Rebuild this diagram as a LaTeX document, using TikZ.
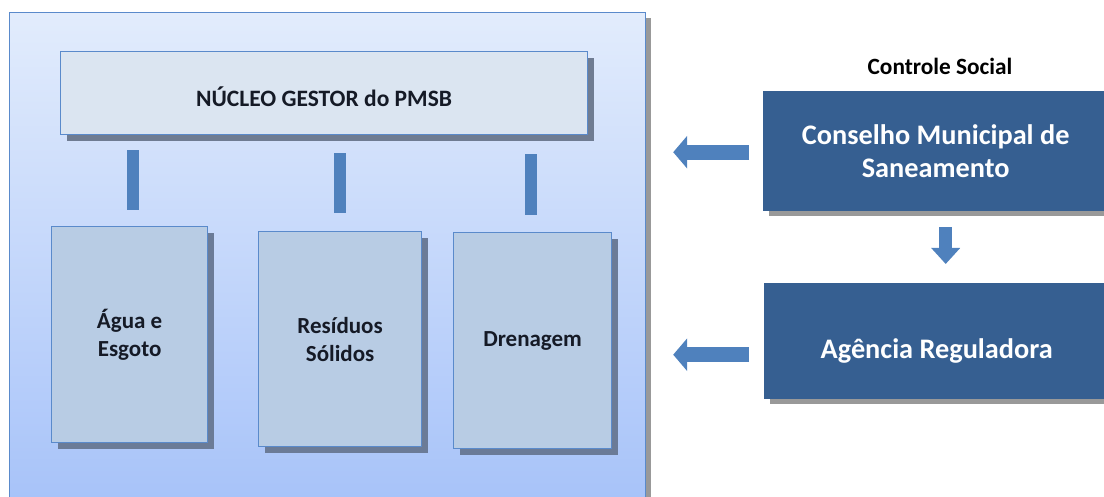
\documentclass[tikz,border=0pt]{standalone}
\usepackage{fontspec}
\setmainfont{Carlito}
\usetikzlibrary{shadows,arrows.meta,calc}
\definecolor{bigtop}{HTML}{E2ECFC}
\definecolor{bigbot}{HTML}{A6C2F9}
\definecolor{bord}{HTML}{5A8ACB}
\definecolor{hdrfill}{HTML}{DBE5F1}
\definecolor{subfill}{HTML}{B8CCE4}
\definecolor{subshadow}{HTML}{6B7B97}
\definecolor{darkfill}{HTML}{365F91}
\definecolor{arrowc}{HTML}{4F81BD}
\definecolor{txt}{HTML}{151A26}
\tikzset{
  bigbox/.style={draw=bord, line width=1.2pt, top color=bigtop, bottom color=bigbot,
    drop shadow={shadow xshift=5pt, shadow yshift=-5pt, fill=black!40, opacity=1}},
  hdrbox/.style={draw=bord, line width=1.2pt, fill=hdrfill,
    drop shadow={shadow xshift=6pt, shadow yshift=-6pt, fill=subshadow!80!gray, opacity=1}},
  hdrtext/.style={font=\bfseries\fontsize{23.5}{28}\selectfont, text=txt},
  subbox/.style={draw=bord, line width=1.2pt, fill=subfill, font=\bfseries\fontsize{23}{28}\selectfont, text=txt, align=center,
    drop shadow={shadow xshift=6pt, shadow yshift=-6pt, fill=subshadow, opacity=1}},
  darkbox/.style={draw=darkfill, fill=darkfill, font=\bfseries\fontsize{28.3}{33}\selectfont, text=white, align=center,
    drop shadow={shadow xshift=6pt, shadow yshift=-6pt, fill=black!40, opacity=1}},
  darktext/.style={font=\bfseries\fontsize{28.3}{33}\selectfont, text=white},
  bar/.style={draw=arrowc, line width=12pt},
  blockarrow/.style={draw=arrowc, line width=15pt, -{Triangle[length=14pt,width=32pt]}},
  blockdown/.style={draw=arrowc, line width=13pt, -{Triangle[length=16pt,width=28pt]}},
}
\begin{document}
\begin{tikzpicture}[x=1pt,y=-1pt]
\useasboundingbox (0,0) rectangle (1104,497);
\clip (0,0) rectangle (1104,497);
% big container
\node[bigbox, anchor=north west, minimum width=636pt, minimum height=500pt, inner sep=0pt] (big) at (9,12) {};
% header
\node[hdrbox, anchor=north west, minimum width=527pt, minimum height=83pt, inner sep=0pt,
  label={[hdrtext, yshift=-4pt]center:NÚCLEO GESTOR do PMSB}] (hdr) at (60,51) {};
% sub boxes
\node[subbox, anchor=north west, minimum width=156pt, minimum height=216pt, inner sep=0pt] (agua) at (51,226) {Água e\\Esgoto};
\node[subbox, anchor=north west, minimum width=163pt, minimum height=215pt, inner sep=0pt] (resid) at (258,231) {Resíduos\\Sólidos};
\node[subbox, anchor=north west, minimum width=158pt, minimum height=216pt, inner sep=0pt] (dren) at (453,232) {Drenagem};
% bars
\draw[bar, shorten <=15pt, shorten >=16pt] ([xshift=3pt]agua.north |- hdr.south) -- ([xshift=3pt]agua.north);
\draw[bar, shorten <=18pt, shorten >=18pt] (resid.north |- hdr.south) -- (resid.north);
\draw[bar, shorten <=19pt, shorten >=17pt] ([xshift=-2pt]dren.north |- hdr.south) -- ([xshift=-2pt]dren.north);
% right side
\node[font=\bfseries\fontsize{23.3}{28}\selectfont, text=black] (cs) at (940,66) {Controle Social};
\node[darkbox, anchor=north west, minimum width=345pt, minimum height=119pt, inner sep=0pt] (cons) at (763,91) {Conselho Municipal de\\Saneamento};
\node[darkbox, anchor=north west, minimum width=345pt, minimum height=115pt, inner sep=0pt,
  label={[darktext, yshift=-10pt]center:Agência Reguladora}] (agen) at (764,283) {};
% arrows
\draw[blockarrow, shorten <=14pt, shorten >=27pt] ([yshift=-1.5pt]cons.west) -- ([yshift=-1.5pt]cons.west -| big.east);
\draw[blockarrow, shorten <=15pt, shorten >=27pt] ([yshift=-14pt]agen.west) -- ([yshift=-14pt]agen.west -| big.east);
\draw[blockdown, shorten <=17pt, shorten >=19pt] ([xshift=10pt]cons.south) -- ([xshift=10pt]cons.south |- agen.north);
\end{tikzpicture}
\end{document}
